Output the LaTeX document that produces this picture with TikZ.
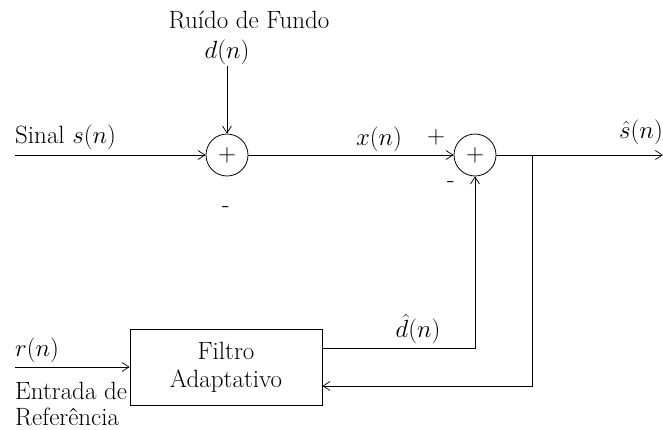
\documentclass[tikz,border=0pt]{standalone}
\usetikzlibrary{arrows.meta}
\begin{document}
\begin{tikzpicture}[x=1pt,y=-1pt,
  lbl/.style={inner sep=0pt,font=\fontsize{25}{28}\selectfont},
  sumnode/.style={circle,draw,line width=0.8pt,minimum size=42pt,inner sep=0pt,font=\fontsize{26}{26}\selectfont},
  boxnode/.style={draw,line width=0.8pt,minimum width=192pt,minimum height=76pt,inner sep=0pt,align=center,font=\fontsize{25}{28}\selectfont},
  wire/.style={line width=0.7pt},
  arr/.style={wire,-{Straight Barb[length=7pt,width=9pt]}}]
\useasboundingbox (0,0) rectangle (663,429);
% nodes
\node[sumnode] (s1) at (227,155) {$+$};
\node[sumnode] (s2) at (475,155) {$+$};
\node[boxnode] (f) at (226,367) {Filtro\\Adaptativo};
\coordinate (in) at (15,155);
\coordinate (dtop) at (227,66);
\coordinate (out) at (663,155);
\coordinate (br) at (532,155);
\coordinate (brb) at (532,386);
\coordinate (rin) at (15,367);
\coordinate (dh) at (475,348);
% labels
\node[lbl] (t1) at (249,20) {Ruído de Fundo};
\node[lbl] (t2) at (227,52) {$d(n)$};
\node[lbl,anchor=west] (t3) at (15,137) {Sinal $s(n)$};
\node[lbl] (t4) at (226,210) {-};
\node[lbl] (t5) at (379,139) {$x(n)$};
\node[lbl] (t6) at (436,137) {$+$};
\node[lbl] (t7) at (451,185) {-};
\node[lbl] (t8) at (641,132) {$\hat{s}(n)$};
\node[lbl,anchor=west] (t9) at (15,350) {$r(n)$};
\node[lbl,anchor=west] (t10) at (15,391) {Entrada de};
\node[lbl,anchor=west] (t11) at (15,417) {Referência};
\node[lbl] (t12) at (418,329) {$\hat{d}(n)$};
% connectors
\draw[arr] (in) -- (s1.west);
\draw[arr] (dtop) -- (s1.north);
\draw[arr] (s1.east) -- (s2.west);
\draw[arr] (s2.east) -- (out);
\draw[arr] (rin) -- (f.west |- rin);
\draw[arr] (f.east |- dh) -- (dh) -- (s2.south);
\draw[arr] (br) -- (brb) -- (f.east |- brb);
\end{tikzpicture}
\end{document}
